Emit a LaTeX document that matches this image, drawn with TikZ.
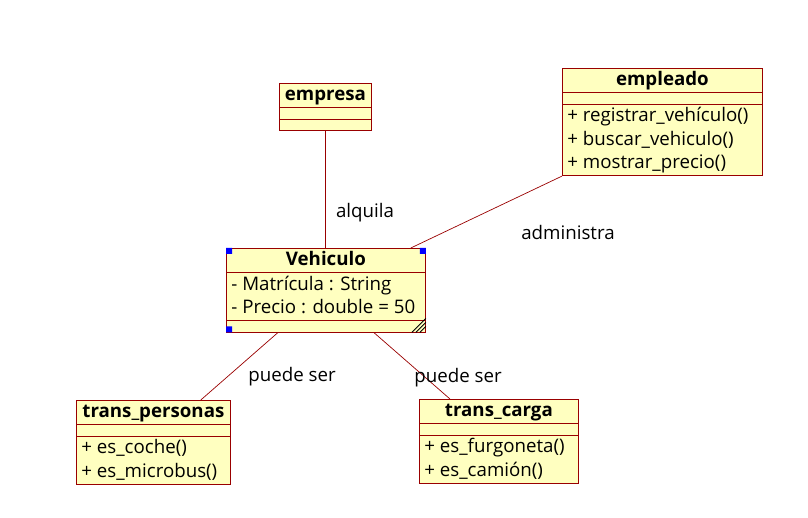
\documentclass[tikz,border=0pt]{standalone}
\usepackage{fontspec}
\setmainfont{Open Sans}
\usetikzlibrary{shapes.multipart}
\definecolor{umlline}{RGB}{153,0,0}
\definecolor{umlfill}{RGB}{255,255,192}
\newcommand\umlstrut{\rule[-6.5pt]{0pt}{23.6pt}}

\begin{document}
\begin{tikzpicture}[x=1pt, y=-1pt,
every edge/.style = {draw, umlline, line width=0.7pt},
         C/.style = {rectangle split, rectangle split parts=3,
                     rectangle split part align={center,left,left},
                     rectangle split empty part height=10.5pt,
                     rectangle split empty part depth=0pt,
                     draw=umlline, fill=umlfill, line width=0.8pt,
                     align=left, inner xsep=5pt, inner ysep=0pt,
                     anchor=north west, font=\fontsize{18.7}{23.6}\selectfont},
         L/.style = {font=\fontsize{18.7}{24}\selectfont, inner sep=0pt}
                    ]
\useasboundingbox (0,0) rectangle (808,518);

% classes
\node (empresa) [C, minimum width=92] at (279,83)
      {\textbf{empresa}\umlstrut\nodepart{two}\nodepart{three}};
\node (empleado) [C, minimum width=200] at (562,68)
      {\textbf{empleado}\umlstrut\nodepart{two}\nodepart{three}
       + registrar\_vehículo()\umlstrut\\
       + buscar\_vehiculo()\umlstrut\\
       + mostrar\_precio()\umlstrut};
\node (veh) [C, minimum width=199] at (226,248)
      {\textbf{Vehiculo}\umlstrut\nodepart{two}
       - Matrícula : String\umlstrut\\
       - Precio : double = 50\umlstrut\nodepart{three}};
\node (tp) [C, minimum width=154] at (76,400)
      {\textbf{trans\_personas}\umlstrut\nodepart{two}\nodepart{three}
       + es\_coche()\umlstrut\\
       + es\_microbus()\umlstrut};
\node (tc) [C, minimum width=159] at (419,399)
      {\textbf{trans\_carga}\umlstrut\nodepart{two}\nodepart{three}
       + es\_furgoneta()\umlstrut\\
       + es\_camión()\umlstrut};

% selection marks
\fill[blue] (veh.north west) rectangle ++(6,6)
            (veh.north east) rectangle ++(-6,6)
            (veh.south west) rectangle ++(6,-6);
\foreach \k in {14,10,6}
  \draw[line width=0.8pt] ([xshift=-\k]veh.south east) -- ([yshift=\k]veh.south east);

% associations
\draw   (empresa.south) edge (empresa.south |- veh.north)
        (empleado.south west) edge ([xshift=-15]veh.north east)
        ([xshift=52]veh.south west) edge ([xshift=-30]tp.north east)
        ([xshift=-52]veh.south east) edge ([xshift=31]tc.north west);

\node (alquila) [L] at (365,213) {alquila};
\node (administra) [L] at (568,232) {administra};
\node (puede1) [L] at (292,377) {puede ser};
\node (puede2) [L] at (458,378) {puede ser};
\end{tikzpicture}
\end{document}
